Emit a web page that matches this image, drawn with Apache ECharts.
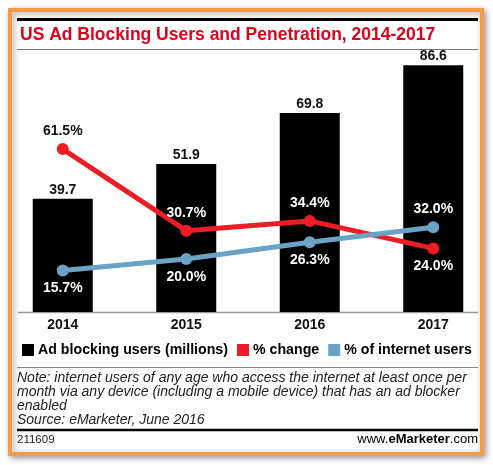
<!DOCTYPE html>
<html>
<head>
<meta charset="utf-8">
<script src="https://cdn.jsdelivr.net/npm/echarts@6/dist/echarts.min.js"></script>
<style>
html,body{margin:0;padding:0;background:#fff;}
#c{width:493px;height:465px;}
</style>
</head>
<body>
<div id="c"></div>
<script>
const categories = ['2014', '2015', '2016', '2017'];
const adBlockingUsers = [39.7, 51.9, 69.8, 86.6];
const percentChange = [61.5, 30.7, 34.4, 24.0];
const percentInternetUsers = [15.7, 20.0, 26.3, 32.0];
const seriesNames = ['Ad blocking users (millions)', '% change', '% of internet users'];
const titleText = 'US Ad Blocking Users and Penetration, 2014-2017';
const noteLines = [
  'Note: internet users of any age who access the internet at least once per',
  'month via any device (including a mobile device) that has an ad blocker',
  'enabled',
  'Source: eMarketer, June 2016'
];
const chartId = '211609';

const FONT = '"Liberation Sans", Arial, sans-serif';
const RED = '#ee1c25';
const BLUE = '#6aa3c6';

const chart = echarts.init(document.getElementById('c'), null, {renderer: 'canvas'});

const redPos = ['top', 'top', 'top', 'bottom'];
const bluePos = ['bottom', 'bottom', 'bottom', 'top'];

function lineData(values, positions, colors) {
  return values.map((v, i) => ({
    value: v,
    label: {position: positions[i], color: colors[i]}
  }));
}

const option = {
  animation: false,
  backgroundColor: '#fff',
  textStyle: {fontFamily: FONT},
  title: {
    text: titleText,
    left: 15,
    top: 21,
    textStyle: {fontFamily: FONT, fontSize: 17.5, fontWeight: 'bold', color: '#e0001b'}
  },
  legend: {
    left: 17,
    top: 338,
    width: 476,
    icon: 'rect',
    itemWidth: 12,
    itemHeight: 12,
    itemGap: 9,
    textStyle: {fontFamily: FONT, fontSize: 14.2, fontWeight: 'bold', color: '#000', padding: [0, 0, 0, -1]},
    data: seriesNames
  },
  grid: {left: 1, width: 494, top: 27, height: 285, outerBoundsMode: 'none', containLabel: false},
  xAxis: {
    type: 'category',
    data: categories,
    boundaryGap: true,
    axisLine: {show: false},
    axisTick: {show: false},
    axisLabel: {margin: 6, fontFamily: FONT, fontSize: 14, fontWeight: 'bold', color: '#111'}
  },
  yAxis: [
    {type: 'value', min: 0, max: 100, show: false},
    {type: 'value', min: 0, max: 107.6, show: false}
  ],
  series: [
    {
      name: seriesNames[0],
      type: 'bar',
      data: adBlockingUsers,
      barWidth: 60,
      itemStyle: {color: '#000'},
      label: {show: true, position: 'top', distance: 2, fontFamily: FONT, fontSize: 14, fontWeight: 'bold', color: '#111'}
    },
    {
      name: seriesNames[1],
      type: 'line',
      yAxisIndex: 1,
      data: lineData(percentChange, redPos, ['#111', '#fff', '#fff', '#fff']),
      symbol: 'circle',
      symbolSize: 12,
      lineStyle: {color: RED, width: 5},
      itemStyle: {color: RED},
      label: {show: true, distance: 5, fontFamily: FONT, fontSize: 14, fontWeight: 'bold', formatter: p => p.value.toFixed(1) + '%'},
      z: 3
    },
    {
      name: seriesNames[2],
      type: 'line',
      yAxisIndex: 1,
      data: lineData(percentInternetUsers, bluePos, ['#fff', '#fff', '#fff', '#fff']),
      symbol: 'circle',
      symbolSize: 12,
      lineStyle: {color: BLUE, width: 5},
      itemStyle: {color: BLUE},
      label: {show: true, distance: 5, fontFamily: FONT, fontSize: 14, fontWeight: 'bold', formatter: p => p.value.toFixed(1) + '%'},
      z: 4
    }
  ],
  graphic: [
    {type: 'rect', z: -10, silent: true,
      shape: {x: 10, y: 10, width: 472, height: 444},
      style: {fill: '#fff', stroke: '#f39a4b', lineWidth: 4, shadowBlur: 6, shadowColor: 'rgba(0,0,0,0.35)', shadowOffsetX: 2, shadowOffsetY: 2}},
    {type: 'line', z: 1, silent: true, shape: {x1: 17, y1: 19.5, x2: 478, y2: 19.5}, style: {stroke: '#000', lineWidth: 3}},
    {type: 'line', z: 1, silent: true, shape: {x1: 17, y1: 49.5, x2: 478, y2: 49.5}, style: {stroke: '#777', lineWidth: 1}},
    {type: 'line', z: 1, silent: true, shape: {x1: 18, y1: 312.5, x2: 478, y2: 312.5}, style: {stroke: '#999', lineWidth: 1.5}},
    {type: 'line', z: 1, silent: true, shape: {x1: 17, y1: 367.5, x2: 478, y2: 367.5}, style: {stroke: '#888', lineWidth: 1}},
    {type: 'text', z: 1, silent: true, left: 17, top: 371,
      style: {text: noteLines.join('\n'), fontFamily: FONT, fontSize: 14, fontStyle: 'italic', lineHeight: 14, fill: '#222'}},
    {type: 'line', z: 1, silent: true, shape: {x1: 17, y1: 430, x2: 478, y2: 430}, style: {stroke: '#000', lineWidth: 2.5}},
    {type: 'text', z: 1, silent: true, left: 17, top: 434,
      style: {text: chartId, fontFamily: FONT, fontSize: 11.5, fill: '#222'}},
    {type: 'text', z: 1, silent: true, right: 15, top: 433,
      style: {
        text: '{n|www.}{e|e}{m|Marketer}{n|.com}',
        rich: {
          n: {fontFamily: FONT, fontSize: 13, color: '#222'},
          e: {fontFamily: FONT, fontSize: 13, fontWeight: 'bold', color: '#e0001b'},
          m: {fontFamily: FONT, fontSize: 13, fontWeight: 'bold', color: '#111'}
        }
      }}
  ]
};

chart.setOption(option);
</script>
</body>
</html>
